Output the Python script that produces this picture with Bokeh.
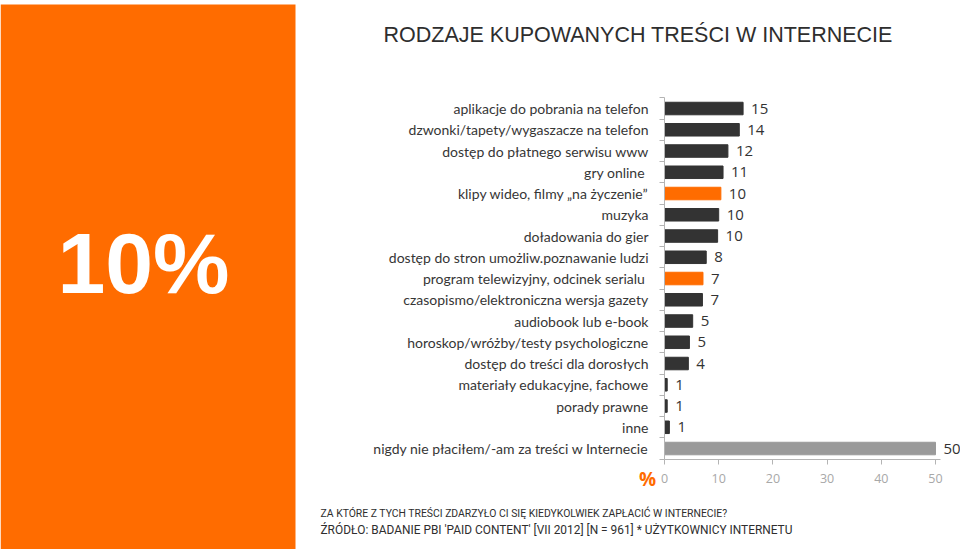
from bokeh.plotting import figure
from bokeh.models import (Range1d, FixedTicker, Label, LabelSet, ColumnDataSource,
                          LinearAxis, BoxAnnotation)
from bokeh.embed import file_html
from bokeh.resources import INLINE
from bokeh.core.properties import value

# ---------------- data ----------------
categories = [
    "aplikacje do pobrania na telefon",
    "dzwonki/tapety/wygaszacze na telefon",
    "dostęp do płatnego serwisu www",
    "gry online ",
    "klipy wideo, filmy „na życzenie”",
    "muzyka",
    "doładowania do gier",
    "dostęp do stron umożliw.poznawanie ludzi",
    "program telewizyjny, odcinek serialu ",
    "czasopismo/elektroniczna wersja gazety",
    "audiobook lub e-book",
    "horoskop/wróżby/testy psychologiczne",
    "dostęp do treści dla dorosłych",
    "materiały edukacyjne, fachowe",
    "porady prawne",
    "inne",
    "nigdy nie płaciłem/-am za treści w Internecie",
]
values = [14.5, 13.8, 11.7, 10.8, 10.4, 10.0, 9.8, 7.7, 7.1, 7.0, 5.2, 4.6, 4.4, 0.5, 0.5, 0.9, 50.0]
value_labels = ["15", "14", "12", "11", "10", "10", "10", "8", "7", "7", "5", "5", "4", "1", "1", "1", "50"]
highlighted = ["klipy wideo, filmy „na życzenie”", "program telewizyjny, odcinek serialu "]
summary_category = "nigdy nie płaciłem/-am za treści w Internecie"
x_ticks = [0, 10, 20, 30, 40, 50]

title_text = "RODZAJE KUPOWANYCH TREŚCI W INTERNECIE"
question_text = "ZA KTÓRE Z TYCH TREŚCI ZDARZYŁO CI SIĘ KIEDYKOLWIEK ZAPŁACIĆ W INTERNECIE?"
source_text = "ŹRÓDŁO:  BADANIE PBI 'PAID CONTENT' [VII 2012] [N = 961] * UŻYTKOWNICY INTERNETU"
big_number = "10%"
unit_mark = "%"

# ---------------- style / layout ----------------
ORANGE = "#FF6C00"
DARK = "#333333"
GREY_BAR = "#9a9a9a"
AXIS_GREY = "#b4b4b4"
TEXT = "#363636"

W, H = 960, 549
n = len(categories)
X0_PX = 664.0        # pixel column of value 0
PXU_X = 5.42         # px per percentage point
TOP_PX = 97.4        # pixel row of the top category boundary
PXU_Y = 21.25        # px per category


def xd(px):
    return (px - X0_PX) / PXU_X


def yd(py):
    return (n - 0.5) - (py - TOP_PX) / PXU_Y


p = figure(width=W, height=H,
           x_range=Range1d(xd(0), xd(W)), y_range=Range1d(yd(H), yd(0)),
           output_backend="svg", toolbar_location=None, min_border=0,
           x_axis_location=None, y_axis_location=None,
           outline_line_color=None, background_fill_color="white",
           border_fill_color="white")
p.grid.visible = False

# orange side panel
p.add_layout(BoxAnnotation(left=xd(0), right=xd(295), bottom=yd(H), top=yd(4),
                           fill_color=ORANGE, fill_alpha=1.0, line_color=None,
                           level="underlay"))
p.add_layout(Label(x=xd(143), y=yd(262), text=big_number, text_align="center",
                   text_baseline="middle", text_font="Liberation Sans",
                   text_font_style="bold", text_font_size="86px",
                   text_color="white"))

# bars
ys = [n - 1 - i for i in range(n)]
colors = []
for c in categories:
    if c == summary_category:
        colors.append(GREY_BAR)
    elif c in highlighted:
        colors.append(ORANGE)
    else:
        colors.append(DARK)

src = ColumnDataSource(dict(y=ys, value=values, label=value_labels, color=colors))
p.hbar(y="y", left=0, right="value", height=0.59, color="color", source=src)

p.add_layout(LabelSet(x="value", y="y", text="label", x_offset=8, source=src,
                      text_baseline="middle", text_align="left",
                      text_font=value("Open Sans"), text_font_size=value("15px"),
                      text_color=value(DARK)))

# y axis at x = 0, ticks between categories
yax = LinearAxis(fixed_location=0, bounds=(-0.5, n - 0.5),
                 ticker=FixedTicker(ticks=ys, minor_ticks=[k - 0.5 for k in range(n + 1)]))
yax.major_label_overrides = {y: c for y, c in zip(ys, categories)}
yax.major_tick_line_color = None
yax.major_tick_out = 0
yax.major_tick_in = 0
yax.minor_tick_out = 5
yax.minor_tick_in = 0
yax.minor_tick_line_color = AXIS_GREY
yax.axis_line_color = AXIS_GREY
yax.major_label_text_font = "Lato"
yax.major_label_text_font_size = "14px"
yax.major_label_text_color = TEXT
yax.major_label_standoff = 11
p.add_layout(yax, "left")

# x axis under the bars
xax = LinearAxis(fixed_location=-0.5, bounds=(0, 51),
                 ticker=FixedTicker(ticks=x_ticks, minor_ticks=[]))
xax.axis_line_color = AXIS_GREY
xax.major_tick_line_color = AXIS_GREY
xax.major_tick_out = 5
xax.major_tick_in = 0
xax.minor_tick_line_color = None
xax.major_label_text_font = "Open Sans"
xax.major_label_text_font_size = "12.5px"
xax.major_label_text_color = "#a8a8a8"
xax.major_label_standoff = 10
p.add_layout(xax, "below")

# texts
p.add_layout(Label(x=xd(647), y=yd(478), text=unit_mark, text_align="center",
                   text_baseline="middle", text_font="Open Sans", text_font_style="bold",
                   text_font_size="19px", text_color=ORANGE))
p.add_layout(Label(x=xd(383), y=yd(34), text=title_text, text_align="left",
                   text_baseline="middle", text_font="Liberation Sans",
                   text_font_size="21.5px", text_color="#2e2e2e"))
p.add_layout(Label(x=xd(320), y=yd(513), text=question_text, text_align="left",
                   text_baseline="middle", text_font="Roboto",
                   text_font_size="10.4px", text_color="#2e2e2e"))
p.add_layout(Label(x=xd(320), y=yd(529), text=source_text, text_align="left",
                   text_baseline="middle", text_font="Roboto",
                   text_font_size="11.9px", text_color="#2e2e2e"))

open("out.html", "w").write(file_html(p, INLINE))
